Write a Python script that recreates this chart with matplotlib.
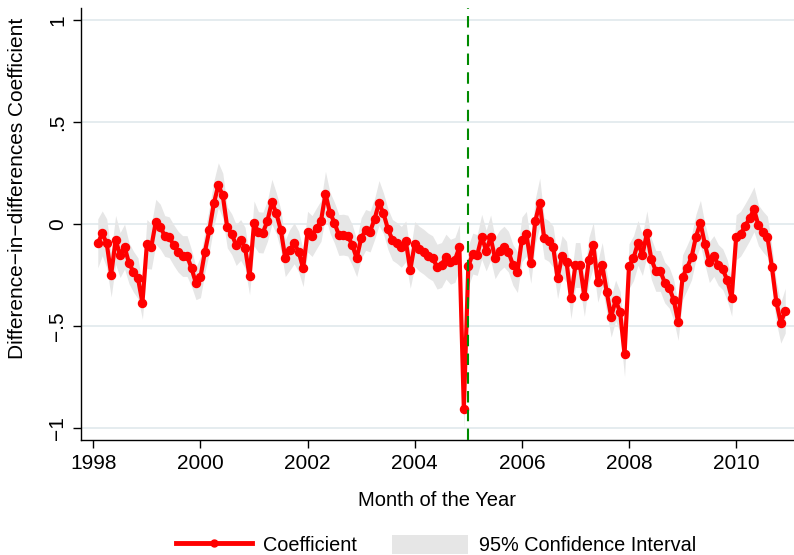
import numpy as np
import matplotlib
matplotlib.use("Agg")
import matplotlib.pyplot as plt
from matplotlib.lines import Line2D
from matplotlib.patches import Patch

plt.rcParams['font.family'] = ['Liberation Sans', 'DejaVu Sans']

# Monthly difference-in-differences estimates, Feb 1998 - Dec 2010
start_year = 1998
first_month = 1  # months after Jan 1998
coef = [
    -0.095, -0.046, -0.095, -0.248, -0.078, -0.152, -0.111, -0.193, -0.234, -0.266, -0.386,
    -0.098, -0.111, 0.011, -0.013, -0.059, -0.065, -0.103, -0.136, -0.157, -0.157, -0.217, -0.291,
    -0.261, -0.136, -0.029, 0.101, 0.190, 0.140, -0.017, -0.050, -0.103, -0.078, -0.117, -0.257,
    0.003, -0.040, -0.042, 0.015, 0.109, 0.052, -0.029, -0.168, -0.127, -0.095, -0.136, -0.217,
    -0.038, -0.059, -0.021, 0.015, 0.148, 0.056, 0.007, -0.054, -0.052, -0.057, -0.103, -0.168,
    -0.070, -0.029, -0.037, 0.024, 0.103, 0.052, -0.025, -0.078, -0.093, -0.112, -0.085, -0.225,
    -0.098, -0.121, -0.136, -0.155, -0.168, -0.209, -0.201, -0.160, -0.185, -0.176, -0.114, -0.907,
    -0.207, -0.145, -0.152, -0.063, -0.130, -0.066, -0.168, -0.131, -0.111, -0.136, -0.201, -0.236,
    -0.076, -0.048, -0.191, 0.013, 0.105, -0.070, -0.083, -0.111, -0.266, -0.157, -0.185, -0.364,
    -0.201, -0.201, -0.353, -0.176, -0.103, -0.283, -0.201, -0.332, -0.454, -0.375, -0.430, -0.639,
    -0.207, -0.168, -0.093, -0.152, -0.046, -0.172, -0.230, -0.230, -0.287, -0.312, -0.371, -0.480,
    -0.261, -0.214, -0.164, -0.062, 0.006, -0.099, -0.187, -0.157, -0.201, -0.222, -0.275, -0.362,
    -0.065, -0.048, -0.011, 0.028, 0.072, -0.007, -0.037, -0.062, -0.209, -0.381, -0.484, -0.425,
]
# Half-width of the 95% confidence interval for each month
ci_half = [
    0.12, 0.11, 0.12, 0.11, 0.12, 0.11, 0.11, 0.10, 0.10, 0.10, 0.08,
    0.12, 0.11, 0.11, 0.11, 0.10, 0.10, 0.10, 0.10, 0.10, 0.10, 0.09, 0.08,
    0.10, 0.10, 0.11, 0.11, 0.11, 0.11, 0.10, 0.10, 0.10, 0.10, 0.10, 0.09,
    0.11, 0.10, 0.10, 0.10, 0.11, 0.10, 0.10, 0.09, 0.10, 0.10, 0.10, 0.09,
    0.10, 0.10, 0.10, 0.10, 0.11, 0.10, 0.10, 0.10, 0.10, 0.10, 0.10, 0.09,
    0.10, 0.10, 0.10, 0.10, 0.11, 0.10, 0.10, 0.10, 0.10, 0.10, 0.10, 0.09,
    0.11, 0.11, 0.11, 0.11, 0.11, 0.11, 0.11, 0.11, 0.11, 0.11, 0.11, 0.10,
    0.10, 0.10, 0.10, 0.11, 0.10, 0.11, 0.10, 0.10, 0.10, 0.10, 0.10, 0.10,
    0.11, 0.11, 0.10, 0.11, 0.12, 0.10, 0.10, 0.10, 0.10, 0.10, 0.10, 0.10,
    0.11, 0.11, 0.10, 0.11, 0.11, 0.10, 0.11, 0.10, 0.10, 0.10, 0.10, 0.11,
    0.11, 0.11, 0.11, 0.10, 0.11, 0.10, 0.10, 0.10, 0.10, 0.10, 0.10, 0.09,
    0.11, 0.11, 0.11, 0.11, 0.11, 0.10, 0.10, 0.10, 0.10, 0.10, 0.10, 0.09,
    0.11, 0.11, 0.11, 0.11, 0.11, 0.10, 0.10, 0.10, 0.10, 0.10, 0.10, 0.11,
]
policy_year = 2005
x_ticks = [1998, 2000, 2002, 2004, 2006, 2008, 2010]
y_ticks = [-1, -0.5, 0, 0.5, 1]
y_ticklabels = ["\u22121", "\u2212.5", "0", ".5", "1"]

coef = np.array(coef)
ci_half = np.array(ci_half)
t = start_year + (first_month + np.arange(len(coef))) / 12.0
lo = coef - ci_half
hi = coef + ci_half

W, H = 794, 555
fig = plt.figure(figsize=(W / 100, H / 100), dpi=100)
ax = fig.add_axes([81 / W, 1 - 440 / H, (W - 81) / W, (440 - 8) / H])

band_color = "#e6e6e6"
grid_color = "#e3ebee"

for yv in y_ticks:
    ax.axhline(yv, color=grid_color, lw=1.3, zorder=0)

ax.fill_between(t, lo, hi, color=band_color, lw=0, zorder=1)
ax.plot(t, coef, color="red", lw=3.0, marker="o", ms=5.8, zorder=3)
ax.axvline(policy_year, color="#008a00", lw=1.5, ls=(0, (5.5, 3.5)), zorder=4)

ax.set_xlim(1997.77, 2011.08)
ax.set_ylim(-1.059, 1.059)
ax.set_xticks(x_ticks)
ax.set_xticklabels([str(v) for v in x_ticks])
ax.set_yticks(y_ticks)
ax.set_yticklabels(y_ticklabels, rotation=90, va="center")

for side in ("top", "right"):
    ax.spines[side].set_visible(False)
for side in ("left", "bottom"):
    ax.spines[side].set_linewidth(1.0)
    ax.spines[side].set_color("black")
ax.tick_params(axis="both", direction="out", length=6, width=1.0,
               labelsize=15, colors="black", pad=4)

ax.set_xlabel("Month of the Year", fontsize=14.5)
ax.xaxis.set_label_coords(437 / 713 - 81 / 713 + 0.0, -(500 - 440) / 432)
ax.set_ylabel("Difference\u2212in\u2212differences Coefficient", fontsize=15)
ax.yaxis.set_label_coords(-(81 - 18) / 713, (440 - 188) / 432)
ax.xaxis.label.set_va("center")
ax.yaxis.label.set_va("center")

handles = [
    Line2D([0], [0], color="red", lw=3.5, marker="o", ms=5),
    Patch(facecolor=band_color, edgecolor="none"),
]
fig.legend(handles, ["Coefficient", "95% Confidence Interval"],
           loc="center", bbox_to_anchor=(436 / W, 1 - 545 / H), ncol=2,
           frameon=False, fontsize=14.3, handlelength=3.8, handleheight=1.15,
           handletextpad=0.55, columnspacing=1.8)

fig.savefig("out.png", dpi=100, facecolor="white")
